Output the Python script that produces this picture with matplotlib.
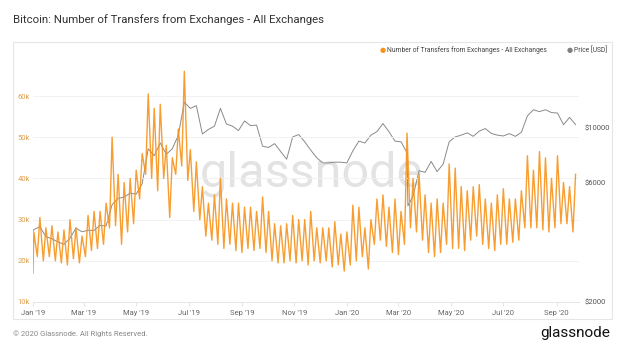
import numpy as np
import pandas as pd
import matplotlib
matplotlib.use("Agg")
import matplotlib.pyplot as plt
import matplotlib.dates as mdates
from matplotlib.patches import Rectangle
from matplotlib.ticker import FixedLocator, NullLocator, FuncFormatter

plt.rcParams['font.family'] = ['Roboto', 'DejaVu Sans']

# ── data ─────────────────────────────────────────────────────────
# weekday highs (Wednesdays, Jan 2 2019 .. Sep 23 2020), thousands
peaks_k = [
    27, 30.5, 28, 28.5, 27,          # Jan 19
    27.5, 30, 28, 26,                # Feb
    31, 32, 32, 34,                  # Mar
    50, 41, 39, 40,                  # Apr
    42, 46, 60.5, 57, 58,            # May
    48, 45, 52, 66,                  # Jun
    47, 44, 38, 34, 36,              # Jul
    40, 35, 34, 34,                  # Aug
    33, 33, 32, 35.5,                # Sep
    32, 29, 28.5, 29, 31,            # Oct
    30, 30, 32, 28,                  # Nov
    28, 28, 29.5, 26.5,              # Dec
    27, 33.5, 33, 28, 30,            # Jan 20
    35, 36, 33, 35,                  # Feb
    32, 51, 40, 41,                  # Mar
    36, 34, 35, 34, 43.5,            # Apr
    42.5, 38, 37, 38,                # May
    38.5, 35, 34, 36,                # Jun
    37.5, 35, 35, 37, 45.5,          # Jul
    42, 46.5, 45, 40,                # Aug
    45.5, 39, 38, 41,                # Sep
]
# weekend lows (Sundays, Jan 6 2019 .. Sep 20 2020), thousands
troughs_k = [
    21, 20, 21, 20,
    19.5, 19, 20.5, 19.5,
    21, 22.5, 23, 24, 28,
    28.5, 24, 27, 29,
    35, 41, 40, 37,
    40, 30.5, 41, 43, 39.5,
    32, 30, 26, 25,
    24, 23, 24, 22.5,
    22, 23, 22.5, 23, 22,
    20, 19.5, 19.5, 20,
    19.5, 20, 19, 20,
    19.5, 20, 18.5, 19, 17.5,
    19, 20, 21, 18,
    24, 25, 23.5, 22,
    21.5, 24, 28, 27, 25,
    22, 21, 22, 24,
    23, 23, 22.5, 25, 26,
    24, 23, 22.5, 24,
    24, 24.5, 25, 28,
    28, 28, 27.5, 27, 28,
    29, 29, 27,
]
first_day_k = 17

# BTC price on the same Wednesdays, USD
price_wed = [
    3900, 4000, 3650, 3580, 3480,
    3400, 3600, 3950, 3820,
    3870, 3870, 4050, 4030,
    4900, 5200, 5250, 5450,
    5400, 5950, 8200, 7700, 8650,
    7800, 8200, 9300, 12600,
    11900, 12200, 9400, 9800, 10100,
    11900, 10300, 10100, 9700,
    10600, 10150, 10200, 8400,
    8300, 8600, 8000, 7450, 9150,
    9350, 8750, 8100, 7550,
    7200, 7200, 7250, 7250,
    7200, 8050, 8800, 8650, 9300,
    9600, 10350, 9600, 8800,
    8750, 7900, 5300, 6700,
    6600, 7300, 6650, 7120, 8750,
    9150, 9300, 9500, 9200,
    9650, 9880, 9450, 9300,
    9230, 9430, 9200, 9550, 11100,
    11750, 11550, 11750, 11450,
    11400, 10240, 10950, 10250,
]
extra_price_dates = ["2019-01-01", "2020-03-12"]
extra_price = [3850, 4850]

left_ticks = [10000, 20000, 30000, 40000, 50000, 60000]
right_ticks = [2000, 6000, 10000]

# ── assemble series ──────────────────────────────────────────────
wed = pd.date_range("2019-01-02", periods=len(peaks_k), freq="7D")
sun = pd.date_range("2019-01-06", periods=len(troughs_k), freq="7D")

t_dates = [pd.Timestamp("2019-01-01")]
t_vals = [first_day_k]
for i in range(len(peaks_k)):
    t_dates.append(wed[i]); t_vals.append(peaks_k[i])
    if i < len(troughs_k):
        t_dates.append(sun[i]); t_vals.append(troughs_k[i])
transfers = pd.Series(np.array(t_vals) * 1000, index=t_dates)

price = pd.concat([pd.Series(price_wed, index=wed),
                   pd.Series(extra_price, index=pd.to_datetime(extra_price_dates))]).sort_index()

# ── figure ───────────────────────────────────────────────────────
W, H = 624, 351
fig = plt.figure(figsize=(W / 100, H / 100), dpi=100)
fig.patches.append(Rectangle((13 / W, 1 - 319 / H), (612 - 13) / W, (319 - 42) / H,
                             transform=fig.transFigure, fill=False,
                             ec='#e6e6e6', lw=0.8))

ax = fig.add_axes([33 / W, 1 - 302 / H, (579 - 33) / W, (302 - 68) / H])
ax2 = ax.twinx()
ax.set_zorder(ax2.get_zorder() + 1)
ax.patch.set_visible(False)

ax2.text(0.51, 0.55, "glassnode", transform=ax2.transAxes, ha='center', va='center',
         fontsize=35, color='#e3e3e3', zorder=0, family='Roboto')

ax2.plot(price.index, price.values, color='#8a8a8a', lw=0.7, zorder=2)
ax2.set_yscale('log')
ax2.set_ylim(2000, 17260)
ax2.yaxis.set_major_locator(FixedLocator(right_ticks))
ax2.yaxis.set_minor_locator(NullLocator())
ax2.yaxis.set_major_formatter(FuncFormatter(lambda v, p: f"${v:.0f}"))
ax2.tick_params(axis='y', length=0, pad=4, labelsize=5.5, labelcolor='#555555')

ax.plot(transfers.index, transfers.values, color='#f7931a', lw=1.0, alpha=0.9)
ax.set_ylim(10000, 66800)
ax.yaxis.set_major_locator(FixedLocator(left_ticks))
ax.yaxis.set_major_formatter(FuncFormatter(lambda v, p: f"{v / 1000:.0f}k"))
ax.tick_params(axis='y', length=0, pad=2, labelsize=5.5, labelcolor='#e0a050')
ax.yaxis.grid(True, color='#f0f0f0', lw=0.6)
ax.set_axisbelow(True)

ax.set_xlim(pd.Timestamp("2019-01-01"), pd.Timestamp("2020-09-27"))
ax.xaxis.set_major_locator(mdates.MonthLocator(bymonth=[1, 3, 5, 7, 9, 11]))
ax.xaxis.set_major_formatter(mdates.DateFormatter("%b '%y"))
ax.tick_params(axis='x', length=3, color='#e6e6e6', pad=3, labelsize=5.5, labelcolor='#666666')

for a in (ax, ax2):
    for s in ('top', 'left', 'right'):
        a.spines[s].set_visible(False)
    a.spines['bottom'].set_color('#e6e6e6')
    a.spines['bottom'].set_linewidth(0.7)

# ── texts ────────────────────────────────────────────────────────
fig.text(13 / W, 1 - 20 / H, "Bitcoin: Number of Transfers from Exchanges - All Exchanges",
         fontsize=8.2, color='#333333', va='center', ha='left')
fig.text(383 / W, 1 - 50 / H, "●", fontsize=5, color='#f7931a', va='center', ha='center',
         family='DejaVu Sans')
fig.text(387 / W, 1 - 50 / H, "Number of Transfers from Exchanges - All Exchanges",
         fontsize=4.9, color='#444444', va='center', ha='left')
fig.text(570 / W, 1 - 50 / H, "●", fontsize=5, color='#808080', va='center', ha='center',
         family='DejaVu Sans')
fig.text(574 / W, 1 - 50 / H, "Price [USD]", fontsize=4.9, color='#444444', va='center', ha='left')

fig.text(13 / W, 1 - 334 / H, "© 2020 Glassnode. All Rights Reserved.",
         fontsize=5.5, color='#888888', va='center', ha='left')
fig.text(610 / W, 1 - 333 / H, "glassnode", fontsize=11, color='#111111',
         va='center', ha='right')

fig.savefig("out.png", dpi=100)
